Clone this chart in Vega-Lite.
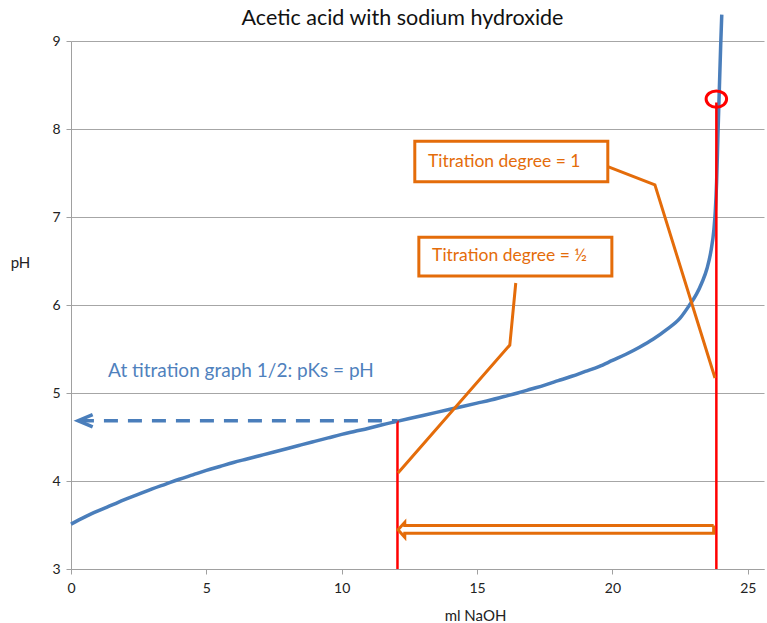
{
  "$schema": "https://vega.github.io/schema/vega-lite/v6.json",
  "width": 693,
  "height": 528,
  "autosize": {"type": "none"},
  "padding": {"left": 71, "top": 41, "right": 3, "bottom": 54},
  "background": "white",
  "config": {
    "view": {"stroke": null},
    "font": "Lato",
    "axis": {
      "domainColor": "#a0a0a0",
      "tickColor": "#a0a0a0",
      "gridColor": "#a6a6a6",
      "tickSize": 5,
      "labelFlush": false,
      "labelFont": "Lato",
      "labelFontSize": 14,
      "labelColor": "#222222",
      "titleFont": "Lato",
      "titleFontSize": 15,
      "titleFontWeight": "normal",
      "titleColor": "#222222"
    }
  },
  "title": {
    "text": "Acetic acid with sodium hydroxide",
    "fontSize": 21.5,
    "fontWeight": "normal",
    "font": "Lato",
    "color": "#111111",
    "anchor": "middle",
    "dx": -15,
    "dy": 26,
    "baseline": "middle",
    "offset": -7
  },
  "datasets": {
    "curve": [
      {"x": 0.0, "y": 3.51}, {"x": 0.5, "y": 3.59}, {"x": 1.0, "y": 3.66}, {"x": 1.5, "y": 3.725},
      {"x": 2.0, "y": 3.79}, {"x": 2.5, "y": 3.85}, {"x": 3.0, "y": 3.91}, {"x": 3.5, "y": 3.965},
      {"x": 4.0, "y": 4.02}, {"x": 4.5, "y": 4.07}, {"x": 5.0, "y": 4.12}, {"x": 5.5, "y": 4.165},
      {"x": 6.0, "y": 4.21}, {"x": 6.5, "y": 4.25}, {"x": 7.0, "y": 4.29}, {"x": 7.5, "y": 4.33},
      {"x": 8.0, "y": 4.37}, {"x": 8.5, "y": 4.41}, {"x": 9.0, "y": 4.45}, {"x": 9.5, "y": 4.49},
      {"x": 10.0, "y": 4.53}, {"x": 10.5, "y": 4.565}, {"x": 11.0, "y": 4.6}, {"x": 11.5, "y": 4.64},
      {"x": 12.0, "y": 4.675}, {"x": 12.5, "y": 4.71}, {"x": 13.0, "y": 4.745}, {"x": 13.5, "y": 4.78},
      {"x": 14.0, "y": 4.815}, {"x": 14.5, "y": 4.85}, {"x": 15.0, "y": 4.885}, {"x": 15.5, "y": 4.92},
      {"x": 16.0, "y": 4.96}, {"x": 16.5, "y": 5.0}, {"x": 17.0, "y": 5.045}, {"x": 17.5, "y": 5.09},
      {"x": 18.0, "y": 5.14}, {"x": 18.5, "y": 5.19}, {"x": 19.0, "y": 5.245}, {"x": 19.5, "y": 5.3},
      {"x": 20.0, "y": 5.37}, {"x": 20.5, "y": 5.44}, {"x": 21.0, "y": 5.52}, {"x": 21.5, "y": 5.61},
      {"x": 22.0, "y": 5.72}, {"x": 22.5, "y": 5.85}, {"x": 22.85, "y": 6.0}, {"x": 23.1, "y": 6.12},
      {"x": 23.3, "y": 6.25}, {"x": 23.5, "y": 6.42}, {"x": 23.65, "y": 6.63}, {"x": 23.75, "y": 6.86},
      {"x": 23.8, "y": 7.06}, {"x": 23.85, "y": 7.4}, {"x": 23.9, "y": 7.95}, {"x": 23.95, "y": 8.45},
      {"x": 24.0, "y": 8.95}, {"x": 24.04, "y": 9.3}
    ],
    "paths": [
      {"g": "dash", "o": 0, "x": 0.33, "y": 4.685},
      {"g": "dash", "o": 1, "x": 12.06, "y": 4.685},
      {"g": "chev", "o": 0, "x": 0.8, "y": 4.755},
      {"g": "chev", "o": 1, "x": 0.26, "y": 4.685},
      {"g": "chev", "o": 2, "x": 0.8, "y": 4.615},
      {"g": "c1", "o": 0, "x": 19.76, "y": 7.58},
      {"g": "c1", "o": 1, "x": 21.57, "y": 7.365},
      {"g": "c1", "o": 2, "x": 23.79, "y": 5.17},
      {"g": "c2", "o": 0, "x": 16.43, "y": 6.25},
      {"g": "c2", "o": 1, "x": 16.21, "y": 5.545},
      {"g": "c2", "o": 2, "x": 12.08, "y": 4.09},
      {"g": "arr", "o": 0, "x": 23.74, "y": 3.495},
      {"g": "arr", "o": 1, "x": 12.33, "y": 3.495},
      {"g": "arr", "o": 2, "x": 12.33, "y": 3.53},
      {"g": "arr", "o": 3, "x": 12.08, "y": 3.445},
      {"g": "arr", "o": 4, "x": 12.33, "y": 3.36},
      {"g": "arr", "o": 5, "x": 12.33, "y": 3.405},
      {"g": "arr", "o": 6, "x": 23.74, "y": 3.405},
      {"g": "arr", "o": 7, "x": 23.74, "y": 3.495}
    ],
    "rules": [
      {"x": 12.06, "y": 3, "y2": 4.685},
      {"x": 23.84, "y": 3, "y2": 8.3}
    ],
    "boxes": [
      {"x": 12.7, "x2": 19.83, "y": 7.86, "y2": 7.4},
      {"x": 12.85, "x2": 19.98, "y": 6.77, "y2": 6.33}
    ],
    "labels": [
      {"g": "orange", "x": 13.19, "y": 7.625, "label": "Titration degree = 1"},
      {"g": "orange", "x": 13.34, "y": 6.557, "label": "Titration degree = ½"},
      {"g": "blue", "x": 1.37, "y": 5.25, "label": "At titration graph 1/2: pKs = pH"}
    ],
    "circle": [
      {"x": 23.84, "y": 8.34}
    ]
  },
  "layer": [
    {
      "data": {"name": "curve"},
      "mark": {"type": "line", "color": "#4A7EBB", "strokeWidth": 3.5, "interpolate": "monotone"},
      "encoding": {
        "x": {
          "field": "x", "type": "quantitative",
          "scale": {"domain": [0, 25.6], "nice": false, "zero": false},
          "axis": {"values": [0, 5, 10, 15, 20, 25], "grid": false, "title": "ml NaOH", "labelPadding": 7,
                   "titleX": 404, "titleY": 46, "titleBaseline": "middle"}
        },
        "y": {
          "field": "y", "type": "quantitative",
          "scale": {"domain": [3, 9], "nice": false, "zero": false},
          "axis": {"values": [3, 4, 5, 6, 7, 8, 9], "format": "d", "grid": true, "title": "pH", "titleAngle": 0,
                   "titleX": -51, "titleY": 221, "titleAlign": "center", "titleBaseline": "middle", "labelPadding": 6}
        }
      }
    },
    {
      "data": {"name": "rules"},
      "mark": {"type": "rule", "color": "#FF0000", "strokeWidth": 2.5},
      "encoding": {
        "x": {"field": "x", "type": "quantitative"},
        "y": {"field": "y", "type": "quantitative"},
        "y2": {"field": "y2"}
      }
    },
    {
      "data": {"name": "paths"},
      "transform": [{"filter": "datum.g === 'dash'"}],
      "mark": {"type": "line", "color": "#4A7EBB", "strokeWidth": 3.5, "strokeDash": [14, 10]},
      "encoding": {
        "x": {"field": "x", "type": "quantitative"},
        "y": {"field": "y", "type": "quantitative"},
        "order": {"field": "o"}
      }
    },
    {
      "data": {"name": "paths"},
      "transform": [{"filter": "datum.g === 'chev'"}],
      "mark": {"type": "line", "color": "#4A7EBB", "strokeWidth": 3.5},
      "encoding": {
        "x": {"field": "x", "type": "quantitative"},
        "y": {"field": "y", "type": "quantitative"},
        "order": {"field": "o"}
      }
    },
    {
      "data": {"name": "paths"},
      "transform": [{"filter": "datum.g === 'c1' || datum.g === 'c2' || datum.g === 'arr'"}],
      "mark": {"type": "line", "color": "#E46C0A", "strokeWidth": 3},
      "encoding": {
        "x": {"field": "x", "type": "quantitative"},
        "y": {"field": "y", "type": "quantitative"},
        "detail": {"field": "g"},
        "order": {"field": "o"}
      }
    },
    {
      "data": {"name": "boxes"},
      "mark": {"type": "rect", "fill": "white", "stroke": "#E46C0A", "strokeWidth": 3},
      "encoding": {
        "x": {"field": "x", "type": "quantitative"},
        "x2": {"field": "x2"},
        "y": {"field": "y", "type": "quantitative"},
        "y2": {"field": "y2"}
      }
    },
    {
      "data": {"name": "labels"},
      "transform": [{"filter": "datum.g === 'orange'"}],
      "mark": {"type": "text", "color": "#E46C0A", "fontSize": 17.5, "align": "left", "baseline": "middle", "font": "Lato"},
      "encoding": {
        "x": {"field": "x", "type": "quantitative"},
        "y": {"field": "y", "type": "quantitative"},
        "text": {"field": "label"}
      }
    },
    {
      "data": {"name": "labels"},
      "transform": [{"filter": "datum.g === 'blue'"}],
      "mark": {"type": "text", "color": "#4F81BD", "fontSize": 19, "align": "left", "baseline": "middle", "font": "Lato"},
      "encoding": {
        "x": {"field": "x", "type": "quantitative"},
        "y": {"field": "y", "type": "quantitative"},
        "text": {"field": "label"}
      }
    },
    {
      "data": {"name": "circle"},
      "mark": {
        "type": "point", "filled": false, "stroke": "#FF0000", "strokeWidth": 3, "opacity": 1,
        "shape": "M -1 0 C -1 -0.442 -0.552 -0.8 0 -0.8 C 0.552 -0.8 1 -0.442 1 0 C 1 0.442 0.552 0.8 0 0.8 C -0.552 0.8 -1 0.442 -1 0 Z",
        "size": 420
      },
      "encoding": {
        "x": {"field": "x", "type": "quantitative"},
        "y": {"field": "y", "type": "quantitative"}
      }
    }
  ]
}
